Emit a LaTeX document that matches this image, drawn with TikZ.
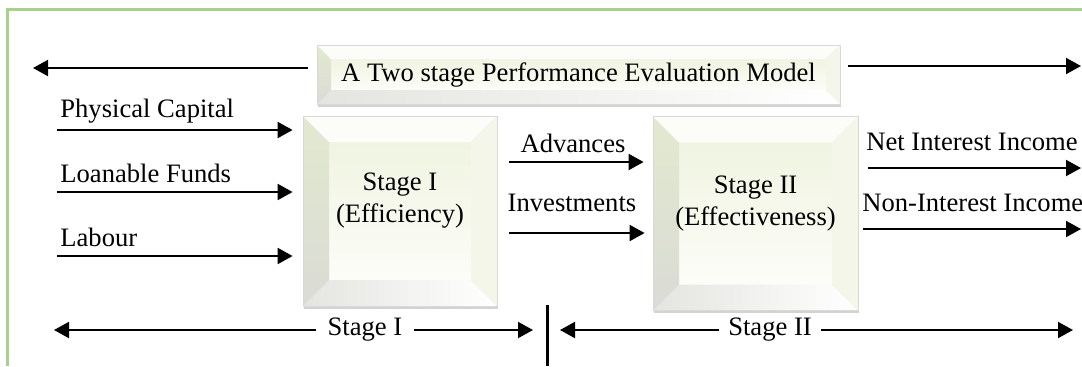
\documentclass[tikz,border=0pt]{standalone}
\usepackage{fontspec}
\setmainfont{Liberation Serif}
\usepackage{xcolor}
\usepackage{tikz}
\usetikzlibrary{arrows.meta, calc, shadows, positioning}

\definecolor{frameGreen}{RGB}{169,209,142}
\definecolor{faceTop}{RGB}{240,244,225}
\definecolor{faceBottom}{RGB}{252,253,248}
\definecolor{bevelLeft}{RGB}{226,233,207}
\definecolor{bevelLeftLow}{RGB}{218,219,213}
\definecolor{bevelTop}{RGB}{252,252,249}
\definecolor{bevelRight}{RGB}{243,246,232}
\definecolor{bevelBottom}{RGB}{228,229,224}

\def\arrowGap{5pt}
\def\laneY{330}

\tikzset{
    flow/.style={-{Triangle[length=7.5pt,width=8pt]}, line width=1pt},
    tag/.style={anchor=west, inner sep=0pt},
    bevelbox/.style={
        inner sep=0pt, draw=black!15, line width=0.4pt,
        drop shadow={shadow xshift=0.6pt, shadow yshift=-1.4pt, opacity=0.35},
        path picture={
            \path (path picture bounding box.south west) coordinate (bsw)
                  (path picture bounding box.north east) coordinate (bne);
            \coordinate (bnw) at (bsw |- bne);
            \coordinate (bse) at (bne |- bsw);
            \coordinate (isw) at ($(bsw)+(#1,#1)$);
            \coordinate (ine) at ($(bne)+(-#1,-#1)$);
            \coordinate (inw) at (isw |- ine);
            \coordinate (ise) at (ine |- isw);
            % flat face, then the four bevel sides
            \shade[top color=faceTop, bottom color=faceBottom] (isw) rectangle (ine);
            \shade[top color=bevelLeft, bottom color=bevelLeftLow] (bsw) -- (bnw) -- (inw) -- (isw) -- cycle;
            \fill[bevelTop] (bnw) -- (bne) -- (ine) -- (inw) -- cycle;
            \fill[bevelRight] (bne) -- (bse) -- (ise) -- (ine) -- cycle;
            \shade[left color=bevelBottom, right color=white] (bsw) -- (bse) -- (ise) -- (isw) -- cycle;
        }},
}

\begin{document}
\begin{tikzpicture}[x=0.5pt, y=-0.5pt, font=\fontsize{13.3}{16}\selectfont]
    \useasboundingbox (0,0) rectangle (1082,366);

    % Draw frame
    \draw[frameGreen, line width=1.5pt] (7.5,366) -- (7.5,9.5) -- (1082,9.5);

    % Draw boxes
    \node[bevelbox=7pt, minimum width=261.5pt, minimum height=29.5pt] (model) at (578.5,74.5)
        {A Two stage Performance Evaluation Model};
    \node[bevelbox=13pt, minimum width=97pt, minimum height=95pt,
          label={[align=center, yshift=5pt]center:Stage I\\(Efficiency)}] (stageOne) at (400,211) {};
    \node[bevelbox=13pt, minimum width=102.5pt, minimum height=97pt,
          label={[align=center, yshift=5pt]center:Stage II\\(Effectiveness)}] (stageTwo) at (755.5,213.5) {};

    % Top arrows
    \coordinate (farLeft) at (33,68);
    \coordinate (farRight) at (1081,66);
    \draw[flow, shorten <=4.5pt] (model.west |- farLeft) -- (farLeft);
    \draw[flow, shorten <=4pt] (model.east |- farRight) -- (farRight);

    % Draw inputs
    \foreach \y/\name/\txt in {130/pc/Physical Capital, 192/lf/Loanable Funds, 256/lab/Labour} {
        \coordinate (\name) at (57,\y);
        \node[tag] (\name-txt) at (60,\y-19) {\txt};
        \draw[flow, shorten >=\arrowGap] (\name) -- (\name -| stageOne.west);
    }

    % Intermediate outputs
    \node (adv) at (573,143) {Advances};
    \node (inv) at (572,203) {Investments};
    \draw[flow, shorten <=6pt, shorten >=4.5pt] (stageOne.east |- 0,162) -- (stageTwo.west |- 0,162);
    \draw[flow, shorten <=6pt, shorten >=4pt] (stageOne.east |- 0,233) -- (stageTwo.west |- 0,233);

    % Final outputs
    \node[tag] (nii) at (866,142) {Net Interest Income};
    \node[tag] (nonii) at (862,203) {Non-Interest Income};
    \coordinate (niiEnd) at (1081,168);
    \coordinate (noniiEnd) at (1081,229);
    \draw[flow, shorten <=\arrowGap] (stageTwo.east |- niiEnd) -- (niiEnd);
    \draw[flow, shorten <=2.5pt] (stageTwo.east |- noniiEnd) -- (noniiEnd);

    % Stage spans along the bottom
    \node[inner xsep=5.5pt] (spanOne) at (365,\laneY) {Stage I};
    \node[inner xsep=4.5pt] (spanTwo) at (770,\laneY) {Stage II};
    \coordinate (oneStart) at (54,\laneY);
    \coordinate (oneEnd) at (533,\laneY);
    \coordinate (twoStart) at (560,\laneY);
    \coordinate (twoEnd) at (1073,\laneY);
    \draw[flow] (spanOne) -- (oneStart);
    \draw[flow] (spanOne) -- (oneEnd);
    \draw[flow] (spanTwo) -- (twoStart);
    \draw[flow] (spanTwo) -- (twoEnd);

    % Divider between the stages
    \coordinate (splitTop) at (547,305);
    \coordinate (splitBottom) at (547,366);
    \draw[line width=1.5pt] (splitTop) -- (splitBottom);
\end{tikzpicture}
\end{document}
